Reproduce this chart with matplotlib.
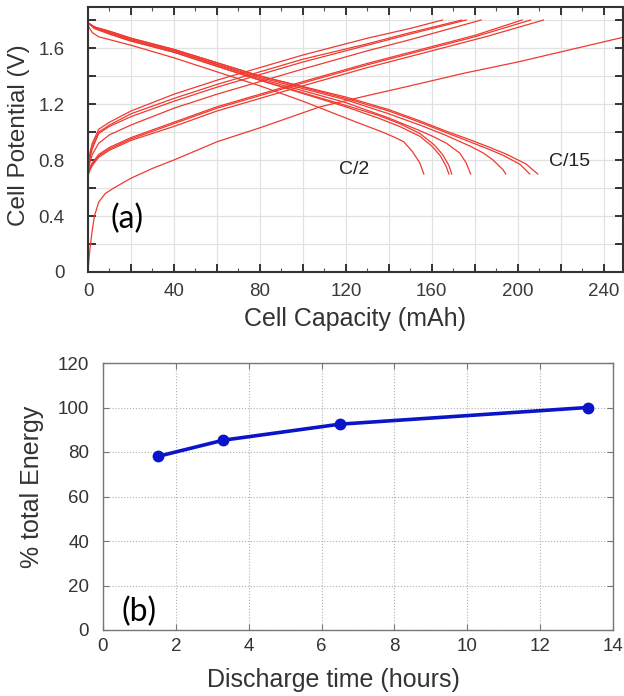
import matplotlib
matplotlib.use("Agg")
import matplotlib.pyplot as plt
from matplotlib.ticker import MultipleLocator, FuncFormatter

plt.rcParams['font.family'] = ['Liberation Sans', 'DejaVu Sans']

# ---------------- Panel (a) data: charge curves (capacity mAh, potential V)
charge_caps = [
    [0, 1, 2, 5, 10, 20, 40, 60, 80, 100, 130, 150, 165],
    [0, 1, 2, 5, 10, 20, 40, 60, 80, 100, 130, 150, 174],
    [0, 1, 2, 5, 10, 20, 40, 60, 80, 100, 130, 150, 176],
    [0, 1, 2, 5, 10, 20, 40, 60, 80, 100, 130, 150, 183],
    [0, 1, 2, 5, 10, 20, 40, 60, 80, 100, 130, 160, 180, 202],
    [0, 1, 2, 5, 10, 20, 40, 60, 80, 100, 130, 160, 180, 206],
    [0, 1, 2, 5, 10, 20, 40, 60, 80, 100, 130, 160, 185, 212],
    [0, 0.5, 1, 2, 3, 5, 8, 12, 20, 30, 40, 60, 80, 108, 130, 150, 175, 200, 225, 250],
]
charge_volts = [
    [0.75, 0.86, 0.92, 1.02, 1.07, 1.15, 1.27, 1.37, 1.46, 1.55, 1.67, 1.74, 1.80],
    [0.73, 0.84, 0.90, 1.00, 1.05, 1.13, 1.24, 1.34, 1.43, 1.52, 1.63, 1.71, 1.80],
    [0.72, 0.82, 0.88, 0.99, 1.04, 1.11, 1.22, 1.32, 1.41, 1.50, 1.62, 1.70, 1.80],
    [0.72, 0.79, 0.84, 0.92, 0.98, 1.05, 1.17, 1.27, 1.36, 1.45, 1.58, 1.66, 1.80],
    [0.70, 0.75, 0.78, 0.84, 0.89, 0.96, 1.07, 1.18, 1.27, 1.36, 1.49, 1.61, 1.69, 1.80],
    [0.70, 0.74, 0.77, 0.83, 0.88, 0.95, 1.06, 1.17, 1.26, 1.35, 1.48, 1.60, 1.68, 1.80],
    [0.69, 0.73, 0.76, 0.82, 0.87, 0.94, 1.04, 1.15, 1.24, 1.33, 1.46, 1.58, 1.68, 1.80],
    [0.00, 0.10, 0.18, 0.30, 0.40, 0.50, 0.56, 0.60, 0.67, 0.74, 0.80, 0.93, 1.03, 1.18,
     1.26, 1.33, 1.42, 1.50, 1.59, 1.68],
]

# discharge curves
discharge_caps = [
    [0, 2, 5, 10, 20, 40, 60, 80, 100, 110, 125, 137, 143, 147, 151, 154.4, 156.3],
    [0, 3, 10, 20, 40, 60, 80, 100, 120, 135, 145, 154.4, 160, 164, 166.5, 168],
    [0, 3, 10, 20, 40, 60, 80, 100, 120, 135, 145, 154.4, 161, 165, 168, 169.3],
    [0, 3, 10, 20, 40, 60, 80, 100, 120, 140, 154.4, 161, 166.8, 173, 176, 178.1],
    [0, 3, 10, 20, 40, 60, 80, 100, 120, 140, 154.4, 166, 177.7, 184, 188.5, 193.2, 194.4],
    [0, 3, 10, 20, 40, 60, 80, 100, 120, 140, 154.4, 166, 177.7, 186, 193, 201, 205.6],
    [0, 3, 10, 20, 40, 60, 80, 100, 120, 140, 154.4, 166, 177.7, 187, 195, 204, 209.3],
]
discharge_volts = [
    [1.76, 1.71, 1.68, 1.66, 1.62, 1.53, 1.43, 1.33, 1.22, 1.16, 1.07, 1.00, 0.96, 0.93,
     0.86, 0.78, 0.70],
    [1.78, 1.74, 1.70, 1.65, 1.57, 1.47, 1.37, 1.275, 1.18, 1.10, 1.04, 0.97, 0.90, 0.83,
     0.76, 0.70],
    [1.78, 1.74, 1.70, 1.65, 1.57, 1.47, 1.37, 1.28, 1.19, 1.12, 1.06, 0.99, 0.91, 0.84,
     0.76, 0.70],
    [1.78, 1.745, 1.71, 1.66, 1.58, 1.48, 1.38, 1.295, 1.21, 1.10, 1.01, 0.965, 0.92, 0.85,
     0.78, 0.70],
    [1.78, 1.75, 1.71, 1.66, 1.58, 1.485, 1.39, 1.31, 1.23, 1.13, 1.05, 0.98, 0.90, 0.85,
     0.80, 0.73, 0.70],
    [1.78, 1.75, 1.72, 1.67, 1.59, 1.495, 1.40, 1.32, 1.24, 1.15, 1.07, 1.00, 0.93, 0.88,
     0.835, 0.77, 0.70],
    [1.78, 1.75, 1.72, 1.67, 1.59, 1.495, 1.40, 1.325, 1.25, 1.16, 1.08, 1.01, 0.945, 0.89,
     0.84, 0.77, 0.70],
]

# ---------------- Panel (b) data
discharge_time = [1.5, 3.3, 6.5, 13.3]
total_energy = [78, 85.3, 92.5, 100]

W, H = 624, 696
fig = plt.figure(figsize=(W / 100, H / 100), dpi=100)

def axrect(l, t, r, b):
    return [l / W, 1 - b / H, (r - l) / W, (b - t) / H]

# ---------------- Panel (a)
ax1 = fig.add_axes(axrect(88, 7, 623, 272))
red = '#ee3a30'
for xs, ys in zip(charge_caps, charge_volts):
    ax1.plot(xs, ys, color=red, lw=0.9)
for xs, ys in zip(discharge_caps, discharge_volts):
    ax1.plot(xs, ys, color=red, lw=0.9)
ax1.set_xlim(0, 249)
ax1.set_ylim(0, 1.893)
ax1.xaxis.set_major_locator(MultipleLocator(20))
ax1.xaxis.set_minor_locator(MultipleLocator(10))
ax1.yaxis.set_major_locator(MultipleLocator(0.2))
ax1.xaxis.set_major_formatter(FuncFormatter(lambda v, p: f"{v:.0f}" if round(v) % 40 == 0 else ""))
ax1.yaxis.set_major_formatter(FuncFormatter(lambda v, p: (f"{v:.1f}" if v > 0.01 else "0") if round(v * 10) % 4 == 0 else ""))
ax1.grid(True, which='major', color='#e2e2e2', lw=0.9)
ax1.set_axisbelow(True)
ax1.tick_params(which='major', direction='in', length=6, width=1.4, color='#333333',
                top=True, right=True, labelsize=13.5, labelcolor='#3a3a3a')
ax1.tick_params(which='minor', direction='in', length=3, width=0.8, color='#555555', top=True)
ax1.tick_params(axis='x', pad=8)
ax1.tick_params(axis='y', pad=17)
for s in ax1.spines.values():
    s.set_color('#333333')
    s.set_linewidth(1.5)
ax1.text(124, 0.73, 'C/2', fontsize=14, ha='center', va='center', color='#222222')
ax1.text(224, 0.79, 'C/15', fontsize=14, ha='center', va='center', color='#222222')
ax1.text(18, 0.38, '(a)', fontsize=23, ha='center', va='center', color='black',
         family=['Lato', 'DejaVu Sans'])
fig.text(355 / W, 1 - 319 / H, 'Cell Capacity (mAh)', fontsize=18, ha='center', va='center',
         color='#333333')
fig.text(19 / W, 1 - 135 / H, 'Cell Potential (V)', fontsize=17.5, ha='center', va='center',
         rotation=90, color='#333333')

# ---------------- Panel (b)
ax2 = fig.add_axes(axrect(103, 363, 613, 630))
ax2.plot(discharge_time, total_energy, color='#0a14c8', lw=2.6, marker='o', markersize=7.5)
ax2.set_xlim(0, 14)
ax2.set_ylim(0, 120)
ax2.xaxis.set_major_locator(MultipleLocator(2))
ax2.yaxis.set_major_locator(MultipleLocator(20))
ax2.grid(True, color='#b0b0b0', lw=0.8, ls=':')
ax2.set_axisbelow(True)
ax2.tick_params(direction='in', length=4, width=0.8, color='#777777', top=True, right=True,
                labelsize=13.5, labelcolor='#333333')
ax2.tick_params(axis='x', pad=6)
ax2.tick_params(axis='y', pad=10)
for s in ax2.spines.values():
    s.set_color('#777777')
    s.set_linewidth(1.0)
ax2.text(1.0, 8, '(b)', fontsize=23, ha='center', va='center', color='black',
         family=['Lato', 'DejaVu Sans'])
fig.text(333 / W, 1 - 680 / H, 'Discharge time (hours)', fontsize=18, ha='center', va='center',
         color='#333333')
fig.text(32 / W, 1 - 487 / H, '% total Energy', fontsize=18, ha='center', va='center',
         rotation=90, color='#333333')

fig.savefig('out.png', dpi=100)
